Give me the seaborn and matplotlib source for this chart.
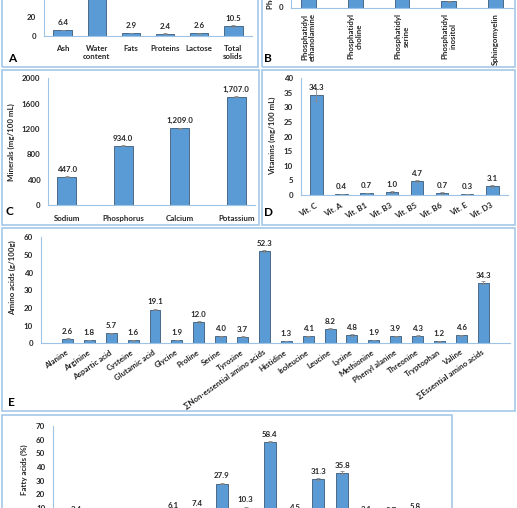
import numpy as np
import pandas as pd
import matplotlib
matplotlib.use('Agg')
import matplotlib.pyplot as plt
from matplotlib.patches import Rectangle
import seaborn as sns

# A: gross composition (%)
comp_names = ['Ash', 'Water\ncontent', 'Fats', 'Proteins', 'Lactose', 'Total\nsolids']
comp_vals = [6.4, 89.5, 2.9, 2.4, 2.6, 10.5]
comp_err = [0.3, 1.0, 0.3, 0.2, 0.3, 1.2]

# B: phospholipids
pl_names = ['Phosphatidyl\nethanolamine', 'Phosphatidyl\ncholine', 'Phosphatidyl\nserine',
            'Phosphatidyl\ninositol', 'Sphingomyelin']
pl_vals = [30.2, 27.5, 12.4, 5.0, 24.9]
pl_err = [0.6, 0.5, 0.4, 0.8, 0.5]

# C: minerals (mg/100 mL)
min_names = ['Sodium', 'Phosphorus', 'Calcium', 'Potassium']
min_vals = [447.0, 934.0, 1209.0, 1707.0]
min_err = [6, 6, 6, 10]

# D: vitamins (mg/100 mL)
vit_names = ['Vit. C', 'Vit. A', 'Vit. B1', 'Vit. B3', 'Vit. B5', 'Vit. B6', 'Vit. E', 'Vit. D3']
vit_vals = [34.3, 0.4, 0.7, 1.0, 4.7, 0.7, 0.3, 3.1]
vit_err = [2.0, 0.1, 0.1, 0.2, 0.4, 0.2, 0.1, 0.3]

# E: amino acids (g/100g)
aa_names = ['Alanine', 'Arginine', 'Aspartic acid', 'Cysteine', 'Glutamic acid', 'Glycine',
            'Proline', 'Serine', 'Tyrosine', '\u2211Non-essential amino acids', 'Histidine',
            'Isoleucine', 'Leucine', 'Lysine', 'Methionine', 'Phenyl alanine', 'Threonine',
            'Tryptophan', 'Valine', '\u2211Essential amino acids']
aa_vals = [2.6, 1.8, 5.7, 1.6, 19.1, 1.9, 12.0, 4.0, 3.7, 52.3,
           1.3, 4.1, 8.2, 4.8, 1.9, 3.9, 4.3, 1.2, 4.6, 34.3]
aa_err = [0.3, 0.2, 0.4, 0.3, 0.3, 0.2, 0.4, 0.2, 0.3, 0.4,
          0.2, 0.3, 0.2, 0.4, 0.2, 0.2, 0.3, 0.2, 0.3, 0.8]

# F: fatty acids (%)
fa_names = ['C4:0', 'C6:0', 'C8:0', 'C10:0', 'C12:0', 'C14:0', 'C16:0', 'C18:0', '\u2211SFA',
            'C16:1', 'C18:1', '\u2211MUFA', 'C18:2', 'C18:3', '\u2211PUFA']
fa_vals = [3.4, 1.1, 1.2, 1.0, 6.1, 7.4, 27.9, 10.3, 58.4, 4.5, 31.3, 35.8, 3.1, 2.7, 5.8]
fa_err = [0.2, 0.1, 0.1, 0.1, 0.2, 0.2, 0.3, 0.4, 0.4, 0.2, 0.8, 1.0, 0.2, 0.2, 0.3]

sns.set_style('white')
plt.rcParams['font.family'] = ['Lato', 'DejaVu Sans']
plt.rcParams['font.weight'] = 'bold'

W, H = 517, 508
BAR = '#5B9BD5'
EDGE = '#4a6a88'
LINE = '#9DC3E6'
TXT = '#262626'
FS = 5.7

fig = plt.figure(figsize=(W / 100, H / 100), dpi=100)


def box(x0, y0, x1, y1):
    fig.add_artist(Rectangle((x0 / W, 1 - y1 / H), (x1 - x0) / W, (y1 - y0) / H,
                             transform=fig.transFigure, fill=False, ec=LINE, lw=1.1))


def panel(x0, x1, ytop, ybase, names, vals, errs, ymax, ystep, width, ylabel, ylab_xy,
          letter, letter_xy, fmt='{:.1f}', rot=0, xpad=6.5):
    ax = fig.add_axes([x0 / W, 1 - ybase / H, (x1 - x0) / W, (ybase - ytop) / H])
    df = pd.DataFrame({'name': names, 'val': vals})
    sns.barplot(data=df, x='name', y='val', color=BAR, saturation=1, width=width,
                edgecolor=EDGE, linewidth=0.7, errorbar=None, ax=ax)
    ax.errorbar(np.arange(len(vals)), vals, yerr=errs, fmt='none', ecolor='#8a8a8a',
                elinewidth=0.6, capsize=1.5, capthick=0.6)
    ax.bar_label(ax.containers[0], labels=[fmt.format(v) for v in vals], padding=3,
                 fontsize=FS, fontweight='bold', color=TXT)
    ax.set_ylim(0, ymax)
    ax.set_yticks(np.arange(0, ymax + ystep / 2, ystep))
    ax.set_xlabel('')
    ax.set_ylabel(ylabel, fontsize=FS, fontweight='bold', color=TXT)
    ax.yaxis.set_label_coords(ylab_xy[0] / W, 1 - ylab_xy[1] / H, transform=fig.transFigure)
    for s in ['top', 'right']:
        ax.spines[s].set_visible(False)
    for s in ['left', 'bottom']:
        ax.spines[s].set_color(LINE)
        ax.spines[s].set_linewidth(0.8)
    ax.tick_params(axis='both', length=0, labelsize=FS, colors=TXT)
    ax.tick_params(axis='y', pad=5.5)
    ax.tick_params(axis='x', pad=xpad)
    if rot == 90:
        plt.setp(ax.get_xticklabels(), rotation=90, ha='center', va='top')
    elif rot:
        plt.setp(ax.get_xticklabels(), rotation=rot, ha='right', va='center',
                 rotation_mode='anchor')
    ax.set_facecolor('none')
    fig.text(letter_xy[0] / W, 1 - letter_xy[1] / H, letter, fontsize=8.5,
             fontweight='bold', ha='left', va='center', color='black')
    return ax


# panel frames
box(2, -10, 258, 67)
box(262, -10, 515, 67)
box(2, 70, 259, 225)
box(262, 70, 515, 225)
box(2, 228, 515, 411)
box(2, 415, 452, 530)

panel(44, 252, 36 - 96.6, 36, comp_names, comp_vals, comp_err, 100, 20, 0.55,
      'Composition (%)', (15, -48), 'A', (8, 58), xpad=6.5)
panel(291, 513, 7.5 - 48, 7.5, pl_names, pl_vals, pl_err, 40, 10, 0.32,
      'Phospholipids (%)', (274, -22), 'B', (264, 58), rot=90, xpad=4)
panel(48, 255, 78.3, 205, min_names, min_vals, min_err, 2000, 400, 0.33,
      'Minerals (mg/100 mL)', (15, 141.7), 'C', (6, 212), fmt='{:,.1f}', xpad=7)
panel(300.7, 508, 78.3, 195, vit_names, vit_vals, vit_err, 40, 5, 0.5,
      'Vitamins (mg/100 mL)', (276, 136), 'D', (264, 213), rot=30, xpad=7)
panel(40.7, 510, 237.3, 343.3, aa_names, aa_vals, aa_err, 60, 10, 0.5,
      'Amino acids (g/100g)', (16, 278), 'E', (8, 402), rot=35, xpad=6)
panel(53, 438.5, 426, 521.7, fa_names, fa_vals, fa_err, 70, 10, 0.5,
      'Fatty acids (%)', (28, 470), 'F', (8, 600), rot=35, xpad=6)

fig.savefig('out.png', dpi=100)
